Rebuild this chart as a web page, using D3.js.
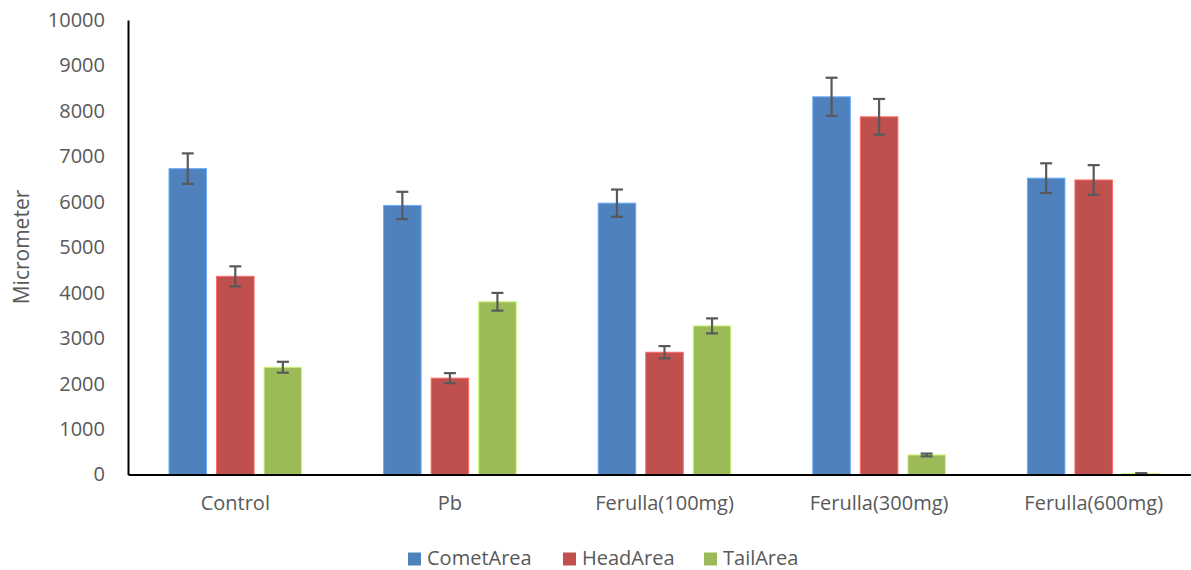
<!DOCTYPE html>
<html>
<head>
<meta charset="utf-8">
<script src="https://cdn.jsdelivr.net/npm/d3@7"></script>
<style>
  body { margin: 0; background: #fff; }
  svg { display: block; font-family: "Open Sans", sans-serif; }
</style>
</head>
<body>
<div id="chart"></div>
<script>
// data
const categories = ["Control", "Pb", "Ferulla(100mg)", "Ferulla(300mg)", "Ferulla(600mg)"];
const seriesNames = ["CometArea", "HeadArea", "TailArea"];
const cometArea = [6730, 5920, 5970, 8310, 6520];
const headArea = [4360, 2120, 2690, 7870, 6480];
const tailArea = [2360, 3800, 3270, 430, 20];
const cometErr = [335, 300, 300, 420, 327];
const headErr = [220, 110, 135, 393, 327];
const tailErr = [120, 195, 165, 30, 10];
const yTicks = [0, 1000, 2000, 3000, 4000, 5000, 6000, 7000, 8000, 9000, 10000];

const colors = ["#4F81BD", "#C0504D", "#9BBB59"];
const values = [cometArea, headArea, tailArea];
const errors = [cometErr, headErr, tailErr];

const W = 1191, H = 570;
const plotLeft = 128, plotRight = 1201, plotTop = 20, plotBottom = 474.5;
const textColor = "#595959";
const fontFamily = "'Open Sans', sans-serif";

const svg = d3.select("#chart").append("svg")
  .attr("width", W)
  .attr("height", H);

const x = d3.scaleBand()
  .domain(categories)
  .range([plotLeft, plotRight])
  .paddingInner(0.382)
  .paddingOuter(0.191);

const xInner = d3.scaleBand()
  .domain(seriesNames)
  .range([0, x.bandwidth()])
  .paddingInner(0.2105)
  .paddingOuter(0);

const y = d3.scaleLinear().domain([0, 10000]).range([plotBottom, plotTop]);

// y axis
const yAxis = svg.append("g")
  .attr("transform", `translate(${plotLeft},0)`)
  .call(d3.axisLeft(y).tickValues(yTicks).tickFormat(d3.format("d")).tickSize(0).tickPadding(23));
yAxis.attr("font-family", fontFamily).attr("font-size", 20);
yAxis.selectAll(".tick text").attr("fill", textColor);
yAxis.select(".domain").attr("stroke", "#000").attr("stroke-width", 2);

// bars
const rows = [];
seriesNames.forEach((s, si) => {
  categories.forEach((c, ci) => {
    rows.push({ s, si, c, v: values[si][ci], e: errors[si][ci] });
  });
});

svg.append("g").selectAll("rect")
  .data(rows)
  .enter().append("rect")
  .attr("x", (d) => x(d.c) + xInner(d.s))
  .attr("y", (d) => y(d.v))
  .attr("width", xInner.bandwidth())
  .attr("height", (d) => plotBottom - y(d.v))
  .attr("fill", (d) => colors[d.si])
  .attr("stroke", (d) => d3.color(colors[d.si]).brighter(0.8))
  .attr("stroke-width", 1);

// error bars
const capHalf = 6;
const eb = svg.append("g").attr("stroke", textColor).attr("stroke-width", 2.2);
rows.forEach((d) => {
  const cx = x(d.c) + xInner(d.s) + xInner.bandwidth() / 2;
  const y1 = y(d.v + d.e), y2 = y(Math.max(0, d.v - d.e));
  eb.append("line").attr("x1", cx).attr("x2", cx).attr("y1", y1).attr("y2", y2);
  eb.append("line").attr("x1", cx - capHalf).attr("x2", cx + capHalf).attr("y1", y1).attr("y2", y1);
  eb.append("line").attr("x1", cx - capHalf).attr("x2", cx + capHalf).attr("y1", y2).attr("y2", y2);
});

// x axis
const xAxis = svg.append("g")
  .attr("transform", `translate(0,${plotBottom})`)
  .call(d3.axisBottom(x).tickSize(0).tickPadding(21));
xAxis.attr("font-family", fontFamily).attr("font-size", 20);
xAxis.selectAll(".tick text").attr("fill", textColor);
xAxis.select(".domain").attr("stroke", "#000").attr("stroke-width", 2);

// axis title
svg.append("text")
  .attr("transform", `translate(29, 247) rotate(-90)`)
  .attr("text-anchor", "middle")
  .attr("fill", textColor)
  .style("font-size", "21px")
  .text("Micrometer");

// legend
const legendX = [408, 563, 704];
const legend = svg.append("g");
seriesNames.forEach((s, i) => {
  legend.append("rect")
    .attr("x", legendX[i]).attr("y", 552.5)
    .attr("width", 13).attr("height", 13)
    .attr("fill", colors[i]);
  legend.append("text")
    .attr("x", legendX[i] + 19).attr("y", 565)
    .attr("fill", textColor)
    .style("font-size", "20px")
    .text(s);
});
</script>
</body>
</html>
